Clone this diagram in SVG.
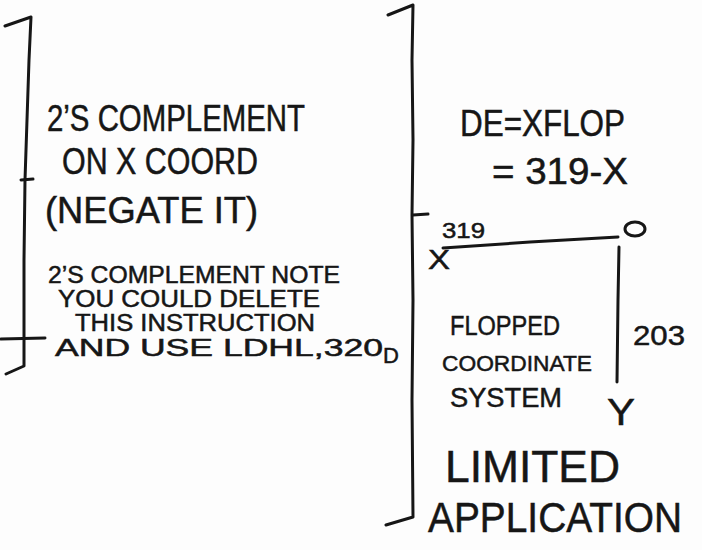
<svg xmlns="http://www.w3.org/2000/svg" width="702" height="550" viewBox="0 0 702 550">
  <style>
    .ink { fill: none; stroke: #161616; stroke-width: 3; stroke-linecap: round; stroke-linejoin: round; }
    text { font-family: "Liberation Sans", "DejaVu Sans", sans-serif; fill: #161616; stroke: #161616; stroke-width: 0.5; }
    .big { font-size: 36px; }
    .mid { font-size: 27px; }
    .note { font-size: 23px; }
    .small { font-size: 22px; }
  </style>
  <rect x="0" y="0" width="702" height="550" fill="#fdfdfd"/>

  <!-- left bracket with its ticks -->
  <g id="left-bracket">
    <path class="ink" d="M5,26 L31,17 L29,60 L27,120 L25,180 L24,260 L24,320 L24,366 L6,374"/>
    <path class="ink" d="M21,180 L33,179"/>
    <path class="ink" d="M1,339 L45,338"/>
  </g>

  <!-- left-hand notes -->
  <g id="left-notes">
    <text class="big" x="47" y="131" textLength="258" lengthAdjust="spacingAndGlyphs">2’S COMPLEMENT</text>
    <text class="big" x="62" y="174" textLength="196" lengthAdjust="spacingAndGlyphs">ON X COORD</text>
    <text class="big" x="45" y="223" textLength="213" lengthAdjust="spacingAndGlyphs">(NEGATE IT)</text>
    <text class="note" x="48" y="283" textLength="292" lengthAdjust="spacingAndGlyphs">2’S COMPLEMENT NOTE</text>
    <text class="note" x="58" y="307" textLength="262" lengthAdjust="spacingAndGlyphs">YOU COULD DELETE</text>
    <text class="note" x="75" y="331" textLength="240" lengthAdjust="spacingAndGlyphs">THIS INSTRUCTION</text>
    <text class="note" x="55" y="356" textLength="328" lengthAdjust="spacingAndGlyphs">AND USE LDHL,320</text>
    <text class="small" x="383" y="363">D</text>
  </g>

  <!-- right bracket with its tick -->
  <g id="right-bracket">
    <path class="ink" d="M388,15 L413,5 L412,60 L413,140 L412,215 L413,300 L412,400 L413,517 L386,525"/>
    <path class="ink" d="M413,215 L428,214"/>
  </g>

  <!-- flop formula -->
  <g id="formula">
    <text class="big" x="460" y="136" textLength="165" lengthAdjust="spacingAndGlyphs">DE=XFLOP</text>
    <text class="big" x="492" y="184" textLength="136" lengthAdjust="spacingAndGlyphs">= 319-X</text>
  </g>

  <!-- flopped coordinate axes -->
  <g id="axes">
    <path class="ink" d="M443,248 L530,242 L618,237"/>
    <path class="ink" d="M619,247 L618,300 L617,382"/>
    <ellipse class="ink" cx="635" cy="229" rx="10" ry="7"/>
    <text class="small" x="442" y="238" textLength="43" lengthAdjust="spacingAndGlyphs">319</text>
    <text class="mid" x="428" y="269" textLength="22" lengthAdjust="spacingAndGlyphs">X</text>
    <text class="mid" x="633" y="345" textLength="52" lengthAdjust="spacingAndGlyphs">203</text>
    <text class="big" x="607" y="425" textLength="28" lengthAdjust="spacingAndGlyphs">Y</text>
    <text class="mid" x="450" y="335" textLength="110" lengthAdjust="spacingAndGlyphs">FLOPPED</text>
    <text class="small" x="442" y="371" textLength="150" lengthAdjust="spacingAndGlyphs">COORDINATE</text>
    <text class="mid" x="450" y="407" textLength="112" lengthAdjust="spacingAndGlyphs">SYSTEM</text>
  </g>

  <!-- closing remark -->
  <g id="remark">
    <text font-size="42" x="428" y="532" textLength="254" lengthAdjust="spacingAndGlyphs">APPLICATION</text>
    <text font-size="44" x="445" y="482" textLength="175" lengthAdjust="spacingAndGlyphs">LIMITED</text>
  </g>
</svg>
